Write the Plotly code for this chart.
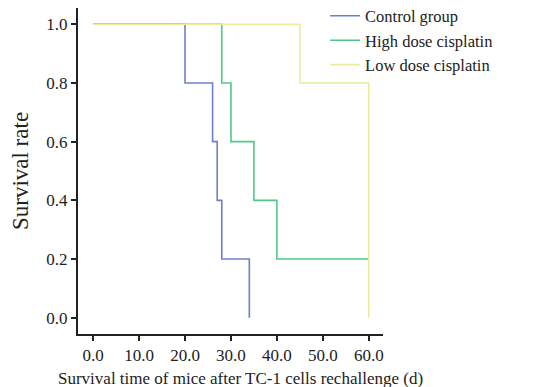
import plotly.graph_objects as go

# Kaplan-Meier step data
control_t = [0, 20, 26, 27, 28, 34]
control_s = [1.0, 0.8, 0.6, 0.4, 0.2, 0.0]
high_t = [0, 28, 30, 35, 40, 60]
high_s = [1.0, 0.8, 0.6, 0.4, 0.2, 0.2]
low_t = [0, 45, 60]
low_s = [1.0, 0.8, 0.0]

x_ticks = [0, 10, 20, 30, 40, 50, 60]
x_tick_labels = ["0.0", "10.0", "20.0", "30.0", "40.0", "50.0", "60.0"]
y_ticks = [0, 0.2, 0.4, 0.6, 0.8, 1.0]
y_tick_labels = ["0.0", "0.2", "0.4", "0.6", "0.8", "1.0"]

x_title = "Survival time of mice after TC-1 cells rechallenge (d)"
y_title = "Survival rate"

font_family = "Liberation Serif, Times New Roman, serif"

fig = go.Figure()
fig.add_trace(go.Scatter(x=control_t, y=control_s, mode="lines", line_shape="hv",
                         name="Control group", line=dict(color="#6f7fc9", width=1.6)))
fig.add_trace(go.Scatter(x=high_t, y=high_s, mode="lines", line_shape="hv",
                         name="High dose cisplatin", line=dict(color="#4fc88a", width=1.6)))
fig.add_trace(go.Scatter(x=low_t, y=low_s, mode="lines", line_shape="hv",
                         name="Low dose cisplatin", line=dict(color="#ecec9e", width=1.6)))

fig.add_annotation(text=x_title, xref="paper", yref="paper", x=0.534, y=0,
                   xanchor="center", yanchor="middle", yshift=-44, showarrow=False,
                   font=dict(size=17, family=font_family, color="#222222"))

fig.update_layout(
    width=539, height=387,
    margin=dict(l=70, r=164, t=0, b=61, autoexpand=False),
    plot_bgcolor="white", paper_bgcolor="white",
    font=dict(family=font_family, color="#222222", size=17),
    showlegend=True,
    legend=dict(x=0.81, y=1.029, xanchor="left", yanchor="top",
                font=dict(size=16.5, family=font_family, color="#222222"),
                bgcolor="rgba(0,0,0,0)", tracegroupgap=0, itemwidth=30),
    xaxis=dict(range=[-3.3, 63.1], tickvals=x_ticks, ticktext=x_tick_labels,
               automargin=False,
               showgrid=False, zeroline=False, showline=True, linecolor="#222222",
               linewidth=2, ticks="outside", ticklen=5, tickcolor="#222222", tickwidth=1.5,
               tickfont=dict(size=17)),
    yaxis=dict(range=[-0.0556, 1.0556], tickvals=y_ticks, ticktext=y_tick_labels,
               automargin=False,
               showgrid=False, zeroline=False, showline=True, linecolor="#222222",
               linewidth=2, ticks="outside", ticklen=5, tickcolor="#222222", tickwidth=1.5,
               title=dict(text=y_title, font=dict(size=23), standoff=15),
               tickfont=dict(size=17)),
)

fig.write_html("out.html")
